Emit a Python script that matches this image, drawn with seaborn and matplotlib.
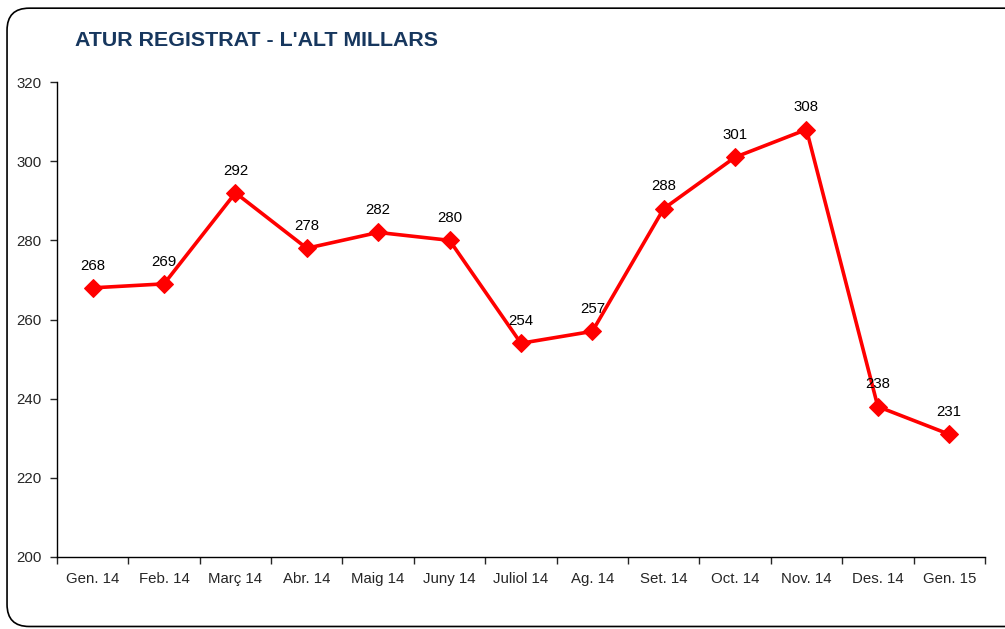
import numpy as np
import pandas as pd
import matplotlib
matplotlib.use("Agg")
import matplotlib.pyplot as plt
import seaborn as sns
from matplotlib.patches import FancyBboxPatch

# ---------- data ----------
months = ["Gen. 14", "Feb. 14", "Març 14", "Abr. 14", "Maig 14", "Juny 14",
          "Juliol 14", "Ag. 14", "Set. 14", "Oct. 14", "Nov. 14", "Des. 14", "Gen. 15"]
atur = [268, 269, 292, 278, 282, 280, 254, 257, 288, 301, 308, 238, 231]
y_ticks = [200, 220, 240, 260, 280, 300, 320]

TITLE = "ATUR REGISTRAT - L'ALT MILLARS"

sns.set_style("white")
plt.rcParams["font.family"] = ["Liberation Sans", "DejaVu Sans"]

df = pd.DataFrame({"pos": np.arange(len(months)), "mes": months, "atur": atur})

fig = plt.figure(figsize=(10.05, 6.29), dpi=100)
ax = fig.add_axes([0.0567, 0.1145, 0.9233, 0.7551])

# rounded frame round the whole chart
frame = FancyBboxPatch((0.007, 0.004), 1.05, 0.983,
                       boxstyle="round,pad=0,rounding_size=0.022",
                       transform=fig.transFigure, fill=False,
                       edgecolor="black", linewidth=1.2, clip_on=False,
                       mutation_aspect=1005 / 629)
fig.patches.append(frame)

sns.lineplot(data=df, x="pos", y="atur", ax=ax, color="#FF0000", linewidth=2.6,
             marker="D", markersize=9, markeredgecolor="#FF0000", sort=False)

for x, y in zip(df["pos"], df["atur"]):
    ax.annotate(str(y), (x, y), xytext=(0, 11), textcoords="offset points",
                ha="center", va="bottom", fontsize=10.8, color="black")

ax.set_xlim(-0.5, len(months) - 0.5)
ax.set_ylim(200, 320)
ax.set_yticks(y_ticks)
ax.set_yticklabels([str(t) for t in y_ticks], fontsize=10.8)

# ticks at category boundaries, labels at centers
ax.set_xticks(np.arange(len(months) + 1) - 0.5)
ax.set_xticklabels([])
ax.set_xticks(df["pos"], minor=True)
ax.set_xticklabels(months, minor=True, fontsize=10.8)
ax.tick_params(axis="x", which="minor", length=0, pad=11)
ax.tick_params(axis="x", which="major", length=5, width=1, direction="out", bottom=True)
ax.tick_params(axis="y", length=5, width=1, direction="out", left=True, pad=6)

ax.set_xlabel("")
ax.set_ylabel("")
for side in ["top", "right"]:
    ax.spines[side].set_visible(False)
for side in ["left", "bottom"]:
    ax.spines[side].set_color("black")
    ax.spines[side].set_linewidth(1)

fig.text(0.0746, 0.936, TITLE, fontsize=15.4, fontweight="bold",
         color="#17375E", ha="left", va="center")

fig.savefig("out.png", dpi=100)
